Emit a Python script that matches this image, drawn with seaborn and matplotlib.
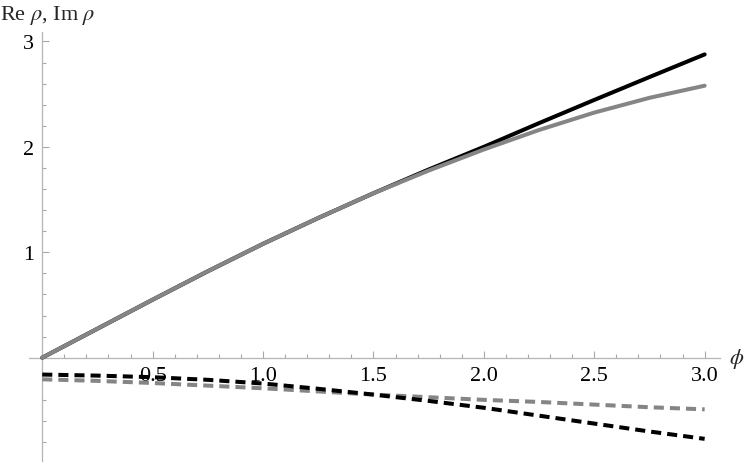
import numpy as np
import pandas as pd
import matplotlib
matplotlib.use('Agg')
import matplotlib.pyplot as plt
from matplotlib.ticker import MultipleLocator, FixedLocator
import seaborn as sns

# values
phi = [0.0, 0.25, 0.5, 0.75, 1.0, 1.25, 1.5, 1.75, 2.0, 2.25, 2.5, 2.75, 3.0]
re_black = [0.0, 0.275, 0.55, 0.82, 1.08, 1.325, 1.56, 1.785, 2.0, 2.225, 2.445, 2.662, 2.877]
re_gray = [0.0, 0.275, 0.55, 0.82, 1.08, 1.325, 1.56, 1.775, 1.975, 2.16, 2.325, 2.465, 2.58]
im_black = [-0.16, -0.17, -0.185, -0.21, -0.245, -0.295, -0.35, -0.41, -0.475, -0.55, -0.625, -0.70, -0.77]
im_gray = [-0.205, -0.22, -0.24, -0.265, -0.29, -0.32, -0.35, -0.375, -0.40, -0.42, -0.445, -0.47, -0.49]

x_ticks = [0.5, 1.0, 1.5, 2.0, 2.5, 3.0]
x_ticklabels = ['0.5', '1.0', '1.5', '2.0', '2.5', '3.0']
y_ticks = [1, 2, 3]
y_ticklabels = ['1', '2', '3']

df = pd.DataFrame({'phi': phi, 're_black': re_black, 're_gray': re_gray,
                   'im_black': im_black, 'im_gray': im_gray})

sns.set_style('white')
plt.rcParams['font.family'] = ['Liberation Serif', 'DejaVu Serif']
plt.rcParams['mathtext.fontset'] = 'stix'

fig = plt.figure(figsize=(7.47, 4.64), dpi=100)
ax = fig.add_axes([0.0388, 0.0043, 0.9252, 0.9247])

lw = 2.9
gray = '#858585'
dash = (2.5, 1.5)
sns.lineplot(data=df, x='phi', y='re_black', ax=ax, color='black', lw=lw, zorder=3)
sns.lineplot(data=df, x='phi', y='re_gray', ax=ax, color=gray, lw=lw, zorder=3)
sns.lineplot(data=df, x='phi', y='im_gray', ax=ax, color=gray, lw=lw, zorder=3)
ax.lines[-1].set_dashes(dash)
sns.lineplot(data=df, x='phi', y='im_black', ax=ax, color='black', lw=lw, zorder=3)
ax.lines[-1].set_dashes(dash)

ax.set_xlim(-0.06, 3.07)
ax.set_ylim(-0.98, 3.09)

for side in ['top', 'right']:
    ax.spines[side].set_visible(False)
ax.spines['left'].set_position(('data', 0))
ax.spines['bottom'].set_position(('data', 0))
for side in ['left', 'bottom']:
    ax.spines[side].set_color('#b4b4b4')
    ax.spines[side].set_linewidth(0.9)

ax.xaxis.set_major_locator(FixedLocator(x_ticks))
ax.set_xticklabels(x_ticklabels)
ax.xaxis.set_minor_locator(MultipleLocator(0.1))
ax.yaxis.set_major_locator(FixedLocator(y_ticks))
ax.set_yticklabels(y_ticklabels)
ax.yaxis.set_minor_locator(MultipleLocator(0.2))

ax.tick_params(which='both', direction='in', bottom=True, left=True,
               color='#a8a8a8', width=0.8, labelsize=16, labelcolor='black')
ax.tick_params(which='major', length=5)
ax.tick_params(which='minor', length=3)
ax.tick_params(axis='x', pad=6)
ax.tick_params(axis='y', pad=6)

ax.set_xlabel('')
ax.set_ylabel('')
fig.text(0.0, 0.992, r'Re $\rho$, Im $\rho$', fontsize=16, ha='left', va='top')
ax.text(3.11, 0.0, r'$\phi$', fontsize=16, ha='left', va='center', clip_on=False)

fig.savefig('out.png', dpi=100)
